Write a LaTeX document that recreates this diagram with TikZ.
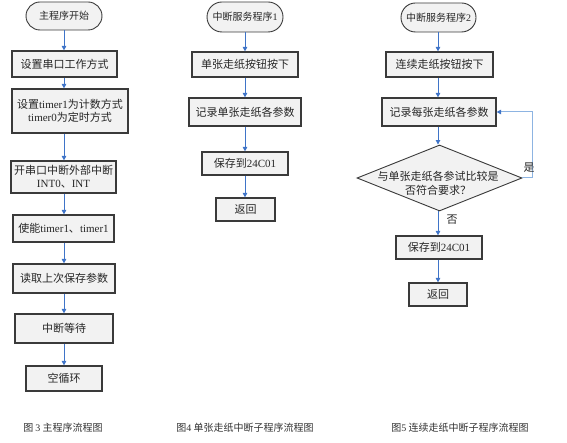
\documentclass[tikz,border=0pt]{standalone}
\usepackage{fontspec}
\setmainfont{Noto Sans CJK SC}
\newfontfamily\lat{Liberation Serif}
\usetikzlibrary{arrows.meta,shapes.geometric,shapes.misc}
\newcommand\La[1]{{\lat #1}}
\definecolor{boxfill}{HTML}{F2F2F2}
\definecolor{boxline}{HTML}{3A3A3A}
\definecolor{arrblue}{HTML}{3F74C8}
\definecolor{loopblue}{HTML}{8DB4E2}
\definecolor{captext}{HTML}{333333}
\tikzset{
  box/.style={draw=boxline, fill=boxfill, line width=1.2pt, inner sep=0pt, align=center, text=black!85},
  term/.style={box, rounded rectangle, line width=0.9pt, font=\fontsize{10}{12}\selectfont},
  arr/.style={draw=arrblue, line width=0.9pt, -{Triangle[length=4.5pt,width=4.5pt]}},
  looparr/.style={draw=loopblue, line width=1pt, -{Triangle[length=4.5pt,width=4.5pt,color=arrblue]}},
  captn/.style={font=\fontsize{10}{12}\selectfont, text=captext, inner sep=0pt},
  lbl/.style={inner sep=0pt, text=black!85}
}
\begin{document}
\begin{tikzpicture}[x=1pt, y=-1pt, font=\fontsize{11}{13.3}\selectfont]
\useasboundingbox (0,0) rectangle (567,443);

% ---------- Column 1: main program ----------
\node[term, minimum width=76pt, minimum height=28pt] (t1) at (64,16) {主程序开始};
\node[box, minimum width=105pt, minimum height=26pt] (b1) at (64.5,64) {设置串口工作方式};
\node[box, minimum width=116pt, minimum height=44pt] (b2) at (70,111) {设置\La{timer1}为计数方式\\\La{timer0}为定时方式};
\node[box, minimum width=105pt, minimum height=32pt] (b3) at (63.5,177) {开串口中断外部中断\\\La{INT0}、\La{INT}};
\node[box, minimum width=101pt, minimum height=27pt] (b4) at (63.5,228.5) {使能\La{timer1}、\La{timer1}};
\node[box, minimum width=102pt, minimum height=29pt] (b5) at (64,278.5) {读取上次保存参数};
\node[box, minimum width=98pt, minimum height=29pt] (b6) at (64,328.5) {中断等待};
\node[box, minimum width=76pt, minimum height=25pt] (b7) at (64,378.5) {空循环};

\draw[arr] (t1.south) -- (t1.south |- b1.north);
\draw[arr] (t1.south |- b1.south) -- (t1.south |- b2.north);
\draw[arr] (t1.south |- b2.south) -- (t1.south |- b3.north);
\draw[arr] (t1.south |- b3.south) -- (t1.south |- b4.north);
\draw[arr] (t1.south |- b4.south) -- (t1.south |- b5.north);
\draw[arr] (t1.south |- b5.south) -- (t1.south |- b6.north);
\draw[arr] (t1.south |- b6.south) -- (t1.south |- b7.north);

% ---------- Column 2: ISR 1 ----------
\node[term, minimum width=76pt, minimum height=30pt] (t2) at (245,17) {中断服务程序\La{1}};
\node[box, minimum width=106pt, minimum height=25pt] (c1) at (245,64.5) {单张走纸按钮按下};
\node[box, minimum width=112pt, minimum height=28pt] (c2) at (245,112) {记录单张走纸各参数};
\node[box, minimum width=86pt, minimum height=23pt] (c3) at (245,163.5) {保存到\La{24C01}};
\node[box, minimum width=59pt, minimum height=23pt] (c4) at (245.5,209.5) {返回};

\draw[arr] (t2.south) -- (c1.north);
\draw[arr] (c1.south) -- (c2.north);
\draw[arr] (c2.south) -- (c3.north);
\draw[arr] (c3.south) -- (c3.south |- c4.north);

% ---------- Column 3: ISR 2 ----------
\node[term, minimum width=75pt, minimum height=29pt] (t3) at (438.5,17.5) {中断服务程序\La{2}};
\node[box, minimum width=107pt, minimum height=25pt] (d1) at (439.5,64.5) {连续走纸按钮按下};
\node[box, minimum width=114pt, minimum height=28pt] (d2) at (439,112) {记录每张走纸各参数};
\node[diamond, draw=boxline, fill=boxfill, line width=0.9pt, inner sep=0pt, minimum width=165pt, minimum height=66pt] (dia) at (439.5,178) {};
\node[align=center, inner sep=0pt, text=black!85] (diat) at (438,183.3) {与单张走纸各参试比较是\\否符合要求？};
\node[box, minimum width=86pt, minimum height=23pt] (d3) at (439,247.5) {保存到\La{24C01}};
\node[box, minimum width=58pt, minimum height=23pt] (d4) at (438,294.5) {返回};

\coordinate (ax) at (438,0);
\draw[arr] (ax |- t3.south) -- (ax |- d1.north);
\draw[arr] (ax |- d1.south) -- (ax |- d2.north);
\draw[arr] (ax |- d2.south) -- (ax |- dia.north);
\draw[arr] (ax |- dia.south) -- (ax |- d3.north);
\draw[arr] (ax |- d3.south) -- (ax |- d4.north);
\draw[looparr] (dia.east) -- ++(10,0) |- (d2.east);

\node[lbl] (lyes) at (529,168) {是};
\node[lbl] (lno) at (452,220) {否};

% ---------- Captions ----------
\node[captn] (cap3) at (63,428) {图 \La{3} 主程序流程图};
\node[captn] (cap4) at (245,428) {图\La{4} 单张走纸中断子程序流程图};
\node[captn] (cap5) at (460,428) {图\La{5} 连续走纸中断子程序流程图};
\end{tikzpicture}
\end{document}
